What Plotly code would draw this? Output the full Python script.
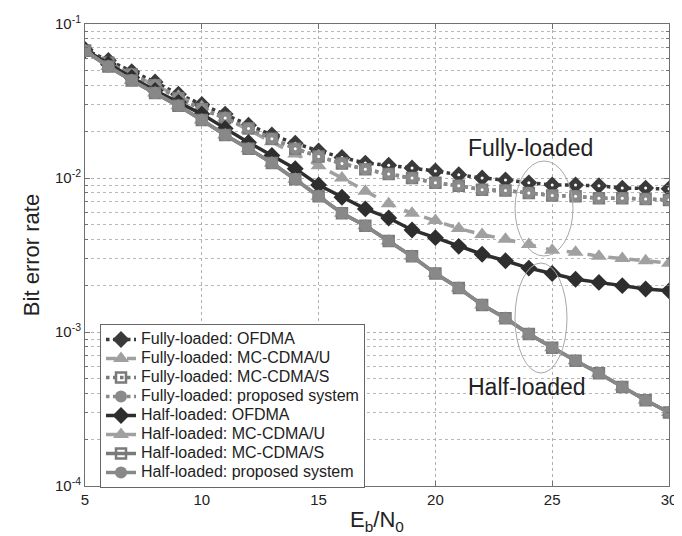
import plotly.graph_objects as go

snr = list(range(5, 31))

full_ofdma = [0.068, 0.058, 0.049, 0.042, 0.035, 0.030, 0.026, 0.022, 0.019, 0.0168, 0.0150, 0.0136, 0.0125,
              0.0121, 0.0116, 0.0111, 0.0105, 0.0100, 0.0097, 0.0093, 0.0090, 0.0090, 0.0089, 0.0086, 0.0086, 0.0085]
full_mccdma_u = [0.067, 0.056, 0.047, 0.040, 0.034, 0.029, 0.0245, 0.0205, 0.0172, 0.0143, 0.0120, 0.0100, 0.0082,
                 0.0068, 0.0059, 0.0053, 0.0047, 0.0043, 0.0040, 0.0037, 0.0034, 0.0033, 0.0031, 0.0030, 0.0029, 0.0028]
full_mccdma_s = [0.067, 0.056, 0.047, 0.040, 0.033, 0.028, 0.0245, 0.021, 0.018, 0.0155, 0.0138, 0.0124, 0.0114,
                 0.0106, 0.0100, 0.0093, 0.0089, 0.0084, 0.0083, 0.0080, 0.0077, 0.0076, 0.0074, 0.0074, 0.0073, 0.0072]
full_proposed = [0.067, 0.056, 0.047, 0.040, 0.033, 0.028, 0.0245, 0.021, 0.018, 0.0155, 0.0138, 0.0124, 0.0114,
                 0.0106, 0.0100, 0.0093, 0.0089, 0.0084, 0.0083, 0.0080, 0.0077, 0.0076, 0.0074, 0.0074, 0.0073, 0.0072]
half_ofdma = [0.068, 0.055, 0.045, 0.037, 0.031, 0.026, 0.021, 0.017, 0.014, 0.0115, 0.0090, 0.0075, 0.0063,
              0.0055, 0.0046, 0.0041, 0.0036, 0.0032, 0.0029, 0.0026, 0.0024, 0.0022, 0.0021, 0.0020, 0.0019, 0.00185]
half_mccdma_u = [0.067, 0.053, 0.043, 0.0356, 0.0294, 0.0238, 0.019, 0.0155, 0.0125, 0.0098, 0.0076, 0.0059, 0.0049,
                 0.0039, 0.0031, 0.0024, 0.00193, 0.0015, 0.00123, 0.00097, 0.00079, 0.00065, 0.00054, 0.00044, 0.00036, 0.00030]
half_mccdma_s = list(half_mccdma_u)
half_proposed = list(half_mccdma_u)

y_tickvals = [1e-4, 1e-3, 1e-2, 1e-1]
y_ticktext = ["10<sup>-4</sup>", "10<sup>-3</sup>", "10<sup>-2</sup>", "10<sup>-1</sup>"]
x_tickvals = [5, 10, 15, 20, 25, 30]

series = [
    ("Fully-loaded: OFDMA", full_ofdma, "#3a3a3a", "dot", "diamond", 13, True),
    ("Fully-loaded: MC-CDMA/U", full_mccdma_u, "#a0a0a0", "dash", "triangle-up", 14, False),
    ("Fully-loaded: MC-CDMA/S", full_mccdma_s, "#7a7a7a", "dot", "square-open", 10, False),
    ("Fully-loaded: proposed system", full_proposed, "#8a8a8a", "dot", "circle", 12, True),
    ("Half-loaded: OFDMA", half_ofdma, "#2e2e2e", "solid", "diamond", 13, False),
    ("Half-loaded: MC-CDMA/U", half_mccdma_u, "#a0a0a0", "solid", "triangle-up", 14, False),
    ("Half-loaded: MC-CDMA/S", half_mccdma_s, "#7a7a7a", "solid", "square-open", 10, False),
    ("Half-loaded: proposed system", half_proposed, "#888888", "solid", "circle", 12, False),
]

FONT = "Liberation Sans, Arial, Helvetica"

fig = go.Figure()
for name, vals, color, dash, sym, size, dot in series:
    mk = dict(symbol=sym, size=size, color=color)
    if sym == "square-open":
        mk["line"] = dict(width=2.5, color=color)
    fig.add_trace(go.Scatter(x=snr, y=vals,
                             name="<span style='font-size:16px'>" + name + "</span>",
                             mode="lines+markers",
                             line=dict(color=color, width=3.5, dash=dash),
                             marker=mk))
    if dot:
        fig.add_trace(go.Scatter(x=snr, y=vals, mode="markers", showlegend=False, hoverinfo="skip",
                                 marker=dict(symbol="circle", size=3, color="white")))

axis_common = dict(showline=True, linecolor="#707070", linewidth=1, mirror="ticks",
                   ticks="inside", ticklen=5, tickcolor="#707070", automargin=False,
                   tickfont=dict(family=FONT, size=15, color="#222"),
                   showgrid=True, gridcolor="#b0b0b0", griddash="dot", gridwidth=1, zeroline=False)

fig.update_xaxes(range=[5, 30], tickvals=x_tickvals, **axis_common,
                 title=dict(text="E<sub>b</sub>/N<sub>0</sub>", standoff=4,
                            font=dict(family=FONT, size=22, color="#222")))
fig.update_yaxes(type="log", range=[-4, -1], tickvals=y_tickvals, ticktext=y_ticktext, **axis_common,
                 minor=dict(showgrid=True, gridcolor="#b8b8b8", griddash="dot", ticks="inside",
                            ticklen=3, tickcolor="#707070", dtick="D1"),
                 title=dict(text="Bit error rate", standoff=9,
                            font=dict(family=FONT, size=22, color="#222")))

def px(x):
    return (x - 77) / 584.0

def py(y):
    return (478 - y) / 462.0

fig.add_shape(type="circle", xref="paper", yref="paper", x0=px(507), x1=px(565), y0=py(248), y1=py(153),
              line=dict(color="#a8a8a8", width=1))
fig.add_shape(type="circle", xref="paper", yref="paper", x0=px(507), x1=px(559), y0=py(365), y1=py(255),
              line=dict(color="#a8a8a8", width=1))
fig.add_annotation(text="Fully-loaded", xref="paper", yref="paper", x=px(522), y=py(140),
                   xanchor="center", yanchor="middle", showarrow=False,
                   font=dict(family=FONT, size=23, color="#222"))
fig.add_annotation(text="Half-loaded", xref="paper", yref="paper", x=px(519), y=py(379),
                   xanchor="center", yanchor="middle", showarrow=False,
                   font=dict(family=FONT, size=23, color="#222"))

fig.update_layout(width=682, height=536, margin=dict(l=77, r=21, t=16, b=58),
                  plot_bgcolor="white", paper_bgcolor="white",
                  legend=dict(x=px(92), y=py(316), xanchor="left", yanchor="top",
                              bgcolor="white", bordercolor="#666", borderwidth=1,
                              font=dict(family=FONT, size=12, color="#222"),
                              tracegroupgap=0, itemwidth=30))

fig.write_html("out.html")
